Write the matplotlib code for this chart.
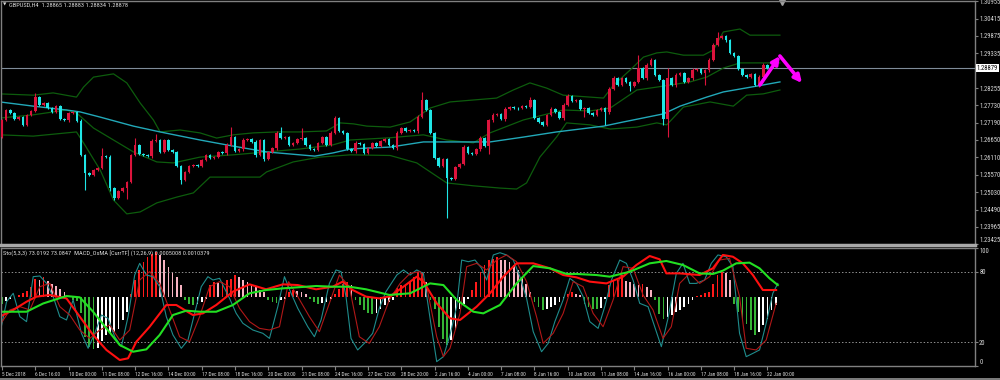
import matplotlib.pyplot as plt
import matplotlib.transforms as mtransforms
from matplotlib import font_manager
from matplotlib.patches import Rectangle
import numpy as np

# ---- GBPUSD H4 candles ----
first_open = 1.2674
closes = [
    1.2727, 1.2758, 1.2749, 1.2730, 1.2736, 1.2712, 1.2743, 1.2755, 1.2798, 1.2774,
    1.2780, 1.2764, 1.2752, 1.2770, 1.2730, 1.2727, 1.2749, 1.2752, 1.2724, 1.2619,
    1.2563, 1.2557, 1.2572, 1.2578, 1.2615, 1.2612, 1.2516, 1.2485, 1.2507, 1.2516,
    1.2535, 1.2619, 1.2650, 1.2622, 1.2619, 1.2615, 1.2662, 1.2665, 1.2628, 1.2665,
    1.2634, 1.2628, 1.2584, 1.2541, 1.2566, 1.2584, 1.2588, 1.2584, 1.2603, 1.2619,
    1.2609, 1.2612, 1.2628, 1.2625, 1.2650, 1.2674, 1.2631, 1.2637, 1.2665, 1.2668,
    1.2659, 1.2619, 1.2665, 1.2606, 1.2628, 1.2640, 1.2687, 1.2671, 1.2674, 1.2650,
    1.2656, 1.2668, 1.2670, 1.2650, 1.2637, 1.2634, 1.2656, 1.2674, 1.2650, 1.2687,
    1.2733, 1.2693, 1.2687, 1.2637, 1.2631, 1.2656, 1.2653, 1.2625, 1.2640, 1.2656,
    1.2647, 1.2662, 1.2668, 1.2650, 1.2640, 1.2687, 1.2702, 1.2693, 1.2696, 1.2693,
    1.2736, 1.2789, 1.2758, 1.2687, 1.2609, 1.2584, 1.2606, 1.2547, 1.2544, 1.2581,
    1.2591, 1.2643, 1.2625, 1.2622, 1.2637, 1.2671, 1.2647, 1.2727, 1.2743, 1.2746,
    1.2730, 1.2761, 1.2767, 1.2764, 1.2763, 1.2770, 1.2767, 1.2789, 1.2733, 1.2721,
    1.2712, 1.2743, 1.2761, 1.2752, 1.2733, 1.2774, 1.2801, 1.2786, 1.2789, 1.2761,
    1.2764, 1.2749, 1.2743, 1.2758, 1.2764, 1.2752, 1.2823, 1.2857, 1.2835, 1.2857,
    1.2845, 1.2832, 1.2845, 1.2888, 1.2857, 1.2898, 1.2913, 1.2867, 1.2851, 1.2730,
    1.2857, 1.2835, 1.2867, 1.2873, 1.2845, 1.2857, 1.2882, 1.2884, 1.2873, 1.2882,
    1.2913, 1.2960, 1.2981, 1.2987, 1.2975, 1.2935, 1.2925, 1.2885, 1.2867, 1.2860,
    1.2870, 1.2835, 1.2860, 1.2898, 1.28879,
]
# wick lengths beyond the body, in pips
wick_up = [
    4, 4, 4, 4, 3, 4, 4, 4, 12, 4,   3, 4, 4, 4, 4, 3, 4, 3, 4, 5,
    4, 3, 4, 3, 25, 3, 5, 4, 4, 4,   4, 4, 22, 4, 3, 3, 5, 19, 4, 4,
    3, 4, 4, 4, 4, 4, 4, 3, 4, 4,    3, 3, 4, 3, 5, 31, 4, 3, 5, 3,
    3, 5, 4, 4, 3, 4, 5, 19, 3, 4,   3, 4, 31, 4, 4, 3, 4, 4, 4, 5,
    6, 4, 3, 4, 3, 5, 3, 4, 3, 4,    3, 4, 4, 4, 4, 5, 4, 3, 4, 3,
    5, 25, 4, 4, 4, 4, 4, 4, 3, 4,   4, 5, 4, 3, 4, 5, 4, 4, 5, 4,
    3, 5, 4, 3, 4, 3, 4, 8, 4, 4,    3, 4, 5, 4, 4, 5, 8, 4, 3, 4,
    3, 4, 3, 4, 4, 4, 5, 6, 4, 4,    3, 4, 4, 40, 4, 5, 6, 4, 4, 4,
    31, 4, 5, 4, 4, 3, 5, 4, 3, 4,   5, 6, 19, 4, 5, 4, 4, 4, 4, 3,
    4, 4, 5, 5, 4,
]
wick_dn = [
    4, 4, 4, 4, 3, 4, 4, 4, 4, 4,    3, 4, 4, 4, 4, 3, 6, 3, 4, 5,
    53, 3, 4, 3, 4, 3, 8, 6, 4, 4,   34, 4, 4, 4, 3, 3, 5, 4, 4, 4,
    3, 4, 4, 12, 4, 4, 4, 3, 4, 4,   3, 3, 4, 3, 5, 4, 4, 3, 5, 3,
    3, 6, 4, 5, 3, 4, 5, 4, 3, 4,    3, 4, 4, 4, 4, 3, 4, 4, 4, 5,
    4, 4, 3, 4, 3, 5, 3, 4, 3, 4,    3, 4, 4, 4, 4, 5, 4, 3, 4, 3,
    5, 4, 4, 4, 4, 4, 4, 124, 3, 4,  4, 5, 4, 3, 4, 5, 4, 25, 5, 4,
    3, 5, 4, 3, 4, 3, 4, 4, 4, 4,    3, 4, 5, 4, 4, 5, 4, 4, 3, 4,
    25, 4, 3, 4, 4, 40, 5, 4, 4, 4,  3, 15, 4, 4, 4, 5, 4, 4, 4, 19,
    56, 4, 5, 4, 4, 3, 5, 4, 3, 37,  5, 4, 4, 4, 5, 4, 4, 4, 4, 3,
    4, 4, 5, 5, 4,
]

# moving average (cyan) and Bollinger bands (green), bar index / price
ma_bars = [-0.5, 7.5, 15.5, 18.8, 23.6, 31.6, 38, 47.6, 55.6, 63.6, 71.6, 75.2, 79.6, 83.7, 87.7,
           93.3, 101.3, 109.3, 117.3, 125.3, 133.3, 144.6, 149.4, 159, 163, 169.4, 173.4, 181.4, 187]
ma_vals = [1.2783, 1.2770, 1.2758, 1.2752, 1.2736, 1.2708, 1.2690, 1.2665, 1.2646, 1.2628, 1.2619,
           1.2615, 1.2625, 1.2637, 1.2640, 1.2643, 1.2659, 1.2659, 1.2659, 1.2674, 1.2690, 1.2708,
           1.2721, 1.2746, 1.2770, 1.2798, 1.2814, 1.2832, 1.2845]

bb_up_bars = [-0.5, 7.5, 12.3, 17.9, 19.6, 22, 26.8, 30, 33.2, 36.4, 38, 42.8, 47.6, 51.6, 55.6,
              60.4, 66, 71.6, 78, 81.3, 84.5, 87.7, 93.3, 98.1, 102.9, 107.7, 113.3, 118.9, 122.9,
              126.9, 130.9, 134.9, 138.1, 144.6, 147, 151, 154.2, 157.4, 159.8, 163.8, 168.6, 171,
              173.4, 177.4, 179.8, 187]
bb_up_vals = [1.2808, 1.2804, 1.2811, 1.2798, 1.2829, 1.2860, 1.2870, 1.2842, 1.2780, 1.2727,
              1.2690, 1.2696, 1.2687, 1.2671, 1.2681, 1.2687, 1.2690, 1.2690, 1.2693, 1.2718,
              1.2715, 1.2708, 1.2705, 1.2721, 1.2764, 1.2783, 1.2789, 1.2795, 1.2820, 1.2842,
              1.2826, 1.2804, 1.2801, 1.2795, 1.2835, 1.2882, 1.2922, 1.2935, 1.2938, 1.2928,
              1.2928, 1.2944, 1.3000, 1.3009, 1.2990, 1.2990]
bb_mid_bars = [-0.5, 7.5, 15.5, 17.9, 22, 26.8, 31.6, 37.2, 41.2, 47.6, 55.6, 63.6, 71.6, 79.6,
               83.7, 93.3, 101.3, 106.9, 113.3, 117.3, 125.3, 134.9, 141.3, 146.2, 152.6, 157.4,
               165.4, 169.4, 173.4, 177.4, 181.4, 187]
bb_mid_vals = [1.2733, 1.2743, 1.2758, 1.2749, 1.2702, 1.2665, 1.2628, 1.2597, 1.2594, 1.2612,
               1.2619, 1.2628, 1.2637, 1.2650, 1.2665, 1.2672, 1.2681, 1.2665, 1.2656, 1.2687,
               1.2727, 1.2758, 1.2755, 1.2764, 1.2820, 1.2829, 1.2845, 1.2860, 1.2888, 1.2904,
               1.2904, 1.2904]
bb_lo_bars = [-0.5, 7.5, 17.9, 19.6, 23.6, 26.8, 30, 33.2, 37.2, 42, 46, 50, 55.6, 62, 63.6, 70,
              76.4, 83.7, 93.3, 99.7, 106.9, 113.3, 119.7, 123.7, 126.1, 129.3, 133.3, 135.7,
              141.3, 146.2, 152.6, 157.4, 159.8, 163.8, 170.2, 175.8, 179, 183, 187]
bb_lo_vals = [1.2681, 1.2677, 1.2690, 1.2656, 1.2572, 1.2479, 1.2436, 1.2442, 1.2470, 1.2488,
              1.2501, 1.2550, 1.2550, 1.2550, 1.2566, 1.2597, 1.2612, 1.2619, 1.2617, 1.2594,
              1.2532, 1.2523, 1.2516, 1.2513, 1.2532, 1.2612, 1.2674, 1.2718, 1.2712, 1.2699,
              1.2705, 1.2718, 1.2712, 1.2767, 1.2783, 1.2770, 1.2804, 1.2808, 1.2820]

# ---- lower window ----
# OsMA histogram, in points
osma = [
    -7, -4, -2, 0.5, 2, 4, 6, 10, 18, 17, 20, 16, 13, 11, 8, 5, 1, -3, -4, -16,
    -40, -50, -52, -51, -44, -38, -36, -35, -32, -23, -15, 3, 17, 27, 35, 40, 43, 45, 42, 37,
    30, 25, 20, 12, -3, -7, -8, -7, -5, -2, 12, 15, 14, 15, 17, 18, 22, 20, 17, 15,
    13, 10, 7, 5, -3, -5, -6, -3, -2, 5, 7, 6, 5, 3, -2, -5, -7, -6, -5, -2,
    3, 8, 13, 15, 12, -3, -8, -13, -16, -17, -16, -12, -8, -5, -3,
    9.3, 11.7, 13.3, 16, 20, 25, 25, 15, -3.3, -11.7, -30, -41.7, -48.3, -43.3, -33.3,
    -11.7, -6.7, -1.7, 6.7, 15, 25, 31.7, 36.7, 38.3, 40, 37.3, 36.7, 35, 31.7, 26.7,
    20, 13.3, 5, -5, -10, -13.3, -11.7, -10, -8.3, -5, -1.7, 3.3, 5, 3.3, 1.7,
    -6.7, -10, -11.7, -11.7, -10.7, -1.7, 11.7, 16, 17.3, 21.7, 16, 15, 13.3, 11.7, 13.3,
    10, 6.7, -3.3, -16.7, -21.7, -20, -18.3, -15, -13.3, -10, -6.7, -3.3, 0.7, 1.7, 4,
    5, 13.3, 21.7, 25, 24, 16.7, -6.7, -15, -21.7, -26.7, -33.3, -38.3, -35, -28.3, -21.7,
    -13.3, -8.3,
]

# thick smooth lines (green slow, red fast), 0-100 scale
slow_bars = [-0.5, 5.9, 9.9, 15.5, 18.7, 21.9, 25.1, 28.3, 31.5, 34.7, 37.9, 41.1, 44.3, 47.5,
             51.5, 55.5, 59.5, 63.5, 67.5, 71.1, 75.5, 79.5, 83.5, 87.5, 91.5, 93.1, 98.1, 102.9,
             106.1, 109.3, 113.3, 115.7, 119.7, 123.7, 127.7, 131.7, 135.7, 138.1, 142.9, 146.1,
             150.9, 155.7, 159.7, 163.7, 167.7, 170.9, 173.3, 176.5, 179.7, 182.1, 184.5, 186.5]
slow_vals = [46, 46, 53, 59.3, 58.2, 46, 31.9, 17.8, 12.1, 14.1, 26.3, 43.2, 46.9, 46, 46, 51.7,
             61.6, 64.4, 65.8, 66.7, 67.8, 67.2, 67.2, 65, 61.6, 60.2, 61.6, 70, 68.6, 56, 46,
             44.6, 51.7, 70, 84.7, 82.8, 78, 78, 77.1, 75.7, 79.9, 87, 89, 85.6, 78.5, 78, 80.8,
             87, 87.6, 82.8, 74.3, 68.6]
fast_bars = [-0.5, 2.7, 5.9, 8.3, 11.5, 15.5, 18.7, 21.9, 25.1, 28.3, 30.3, 32.3, 35.5, 39.5,
             41.9, 45.9, 48.3, 51.5, 55.5, 59.5, 63.5, 67.5, 71.1, 75.5, 79.5, 81.9, 84.3, 87.5,
             90.7, 93.3, 96.5, 99.7, 101.3, 104.5, 107.7, 110.1, 114.1, 117.3, 120.5, 123.7,
             127.7, 131.7, 134.9, 138.1, 141.3, 145.3, 149.3, 152.5, 155.7, 158.1, 159.7, 162.9,
             167.7, 170.9, 173.3, 175.7, 178.1, 180.5, 182.9, 186.1]
fast_vals = [41.8, 47.5, 54.5, 58.8, 60.2, 57.3, 41.8, 26.3, 13.6, 5.1, 6.5, 20.6, 33.3, 51.7,
             51.7, 43.2, 44.6, 51.7, 63, 69.2, 65, 69.2, 68.6, 65, 67.2, 71.5, 64.4, 58.8, 57.3,
             59, 67.2, 75.7, 71.5, 53.1, 40.4, 39, 50.3, 61.6, 75.7, 87, 87, 82.8, 77.1, 75.1,
             71.5, 70, 75.7, 85.6, 93.2, 90.4, 78.5, 78.5, 77.1, 82.8, 94.1, 92.6, 87, 77.1,
             64.4, 64.4]

# stochastic (5,3,3): main (teal) and signal (dark red)
sto_main_bars = [-0.5, 1.1, 2.7, 4.3, 5.9, 7.5, 9.1, 10.7, 12.3, 13.9, 15.5, 17.1, 19.1, 20.7,
                 22.3, 23.9, 25.5, 27.1, 28.7, 30.3, 31.9, 33.1, 34.7, 36.3, 37.9, 39.5, 41.1,
                 43.1, 44.7, 46.3, 47.9, 49.5, 50.7, 52.3, 54.7, 56.3, 57.9, 60.3, 62.7, 64.3,
                 66.3, 67.9, 69.5, 71.1, 73.5, 75.1, 76.7, 78.7, 80.3, 81.5, 82.7, 83.9, 85.5,
                 87.1, 89.1, 90.7, 92.3,
                 94.9, 96.5, 98.1, 99.7, 101.3, 102.9, 104.5, 106.1, 107.7, 109.3, 110.5, 112.1,
                 113.7, 115.3, 116.5, 118.1, 119.7, 121.3, 122.9, 124.5, 126.1, 127.7, 129.7,
                 131.3, 132.9, 134.9, 136.5, 138.1, 139.7, 141.3, 143.3, 144.9, 146.5, 148.5,
                 150.1, 151.7, 153.3, 155.3, 156.9, 158.5, 160.1, 162.1, 163.7, 165.3, 166.9,
                 168.9, 170.5, 172.1, 174.1, 175.7, 177.3, 178.9, 180.5, 182.1, 183.7, 185.3, 186.5]
sto_main_vals = [27.7, 54.5, 61.6, 41.8, 37.6, 75.7, 76.3, 70, 58.8, 41.8, 39, 56, 27.7, 15,
                 27.7, 43.2, 40.4, 24.8, 16.4, 41.8, 77.1, 87, 77.1, 75.7, 67.2, 41.8, 26.3, 15,
                 22, 44.6, 67.2, 75.7, 72.9, 74.3, 57.3, 44.6, 36.2, 30.5, 27.7, 23.4, 50.3,
                 75.7, 61.6, 48.9, 33.3, 24.8, 39, 70, 81.4, 80, 58.8, 23.4, 13.6, 19.2, 27.7,
                 48.9, 63,
                 77.1, 81.4, 77.1, 81.4, 78.5, 40.4, 3.7, 7.9, 26.3, 50.3, 89.8, 88.4, 89.8,
                 82.8, 72.9, 94.1, 96, 94.1, 89.8, 75.7, 57.3, 29.1, 12.1, 19.2, 37.6, 56, 74.3,
                 70, 58.8, 37.6, 31.9, 50.3, 72.9, 89.8, 87, 72.9, 53.1, 50.3, 33.3, 16.4, 40.4,
                 78.5, 87, 70, 70, 72.9, 87, 94.1, 92.6, 84.2, 27.7, 7.9, 10.7, 13.6, 36.2, 61.6, 70]
sto_sig_bars = [-0.5, 1.9, 4.3, 6.7, 9.1, 11.5, 13.9, 16.3, 18.7, 21.1, 23.5, 25.9, 28.3, 30.7,
                33.1, 35.5, 37.9, 40.3, 42.7, 45.1, 47.5, 49.9, 52.3, 54.7, 57.1, 59.5, 61.9,
                64.3, 66.7, 68.9, 71.1, 73.9, 76.3, 78.7, 81.1, 83.5, 85.9, 88.3, 90.7, 93.1,
                95.7, 98.1, 100.5, 102.1, 104.5, 106.1, 107.7, 110.1, 111.7, 114.1, 116.5, 118.9,
                121.3, 123.7, 126.1, 128.5, 130.1, 132.5, 134.9, 137.3, 139.7, 142.1, 144.5,
                146.9, 149.3, 151.7, 154.1, 156.5, 158.9, 160.9, 162.9, 165.3, 167.7, 170.1,
                172.5, 174.9, 177.3, 178.9, 181.3, 183.7, 186.1]
sto_sig_vals = [34.7, 47.5, 50.3, 47.5, 67.2, 70, 50.3, 43.2, 30.5, 23.4, 30.5, 34.7, 22, 30.5,
                72.9, 80, 70, 47.5, 24.8, 20.6, 41.8, 67.2, 71.5, 67.2, 48.9, 37.6, 31.9, 30.5,
                33.3, 71.5, 58.8, 41.8, 29.1, 53.1, 77.1, 67.2, 24.8, 19.2, 33.3, 56,
                70, 78.5, 80, 67.2, 24.8, 7.9, 15, 44.6, 84.2, 87, 81.4, 89.8, 94.1, 88.4, 71.5,
                41.8, 19.2, 27.7, 44.6, 71.5, 67.2, 44.6, 33.3, 56, 84.2, 82.8, 60.2, 47.5, 23.4,
                33.3, 70, 78.5, 70, 75.7, 89.8, 91.2, 58.8, 15, 13.6, 22, 53.1]

time_labels = ['5 Dec 2018', '6 Dec 16:00', '10 Dec 00:00', '11 Dec 08:00', '12 Dec 16:00',
               '14 Dec 00:00', '17 Dec 08:00', '18 Dec 16:00', '20 Dec 00:00', '21 Dec 08:00',
               '24 Dec 16:00', '27 Dec 12:00', '28 Dec 20:00', '2 Jan 16:00', '4 Jan 00:00',
               '7 Jan 08:00', '8 Jan 16:00', '10 Jan 00:00', '11 Jan 08:00', '14 Jan 16:00',
               '16 Jan 00:00', '17 Jan 08:00', '18 Jan 16:00', '22 Jan 00:00']
time_ticks = list(range(0, 185, 8))
price_ticks = [1.30955, 1.30415, 1.29875, 1.29335, 1.28255, 1.27730, 1.27190, 1.26650,
               1.26110, 1.25570, 1.25030, 1.24490, 1.23965, 1.23425]
last_price = 1.28879
arrow_bars = [182.2, 187.0, 192.3]
arrow_prices = [1.28355, 1.29254, 1.28417]

# narrow font if one is installed, else shrink DejaVu
avail = {f.name for f in font_manager.fontManager.ttflist}
FAM, K = 'DejaVu Sans', 0.74
for name, k in [('Liberation Sans Narrow', 1.0), ('DejaVu Sans Condensed', 0.82),
                ('Roboto Condensed', 0.92)]:
    if name in avail:
        FAM, K = name, k
        break
plt.rcParams['font.family'] = [FAM, 'DejaVu Sans']

UP = '#dc143c'
DOWN = '#1fe6e6'
GRID = '#808080'
TXT = '#d8d8d8'
FS_Y = 5.2 * K
FS_X = 4.2 * K
FS_T = 5.0 * K

fig = plt.figure(figsize=(10, 3.8), dpi=100, facecolor='black')
ax = fig.add_axes([0.001, 1 - 245 / 380, 0.974, 244 / 380])
axl = fig.add_axes([0.001, 14 / 380, 0.974, 118 / 380])
XL = (-0.24, 233.9)

for a in (ax, axl):
    a.set_facecolor('black')
    a.set_xlim(*XL)
    for s in a.spines.values():
        s.set_color(GRID)
        s.set_linewidth(1)
ax.spines['bottom'].set_linewidth(2.5)
ax.spines['bottom'].set_color('#a8a8a8')

# ---- candles ----
opens = [first_open] + closes[:-1]
o = np.array(opens)
c = np.array(closes)
idx = np.arange(len(c))
top = np.maximum(o, c)
bot = np.minimum(o, c)
hi = top + np.array(wick_up) * 1e-4
lo = bot - np.array(wick_dn) * 1e-4
col = np.where(c >= o, UP, DOWN)
ax.vlines(idx, lo, hi, colors=col, lw=0.8, zorder=3)
ax.bar(idx, np.maximum(top - bot, 0.00004), bottom=bot, width=0.62, color=col, lw=0, zorder=4)

ax.plot(bb_up_bars, bb_up_vals, color='#0d5c0d', lw=0.9, zorder=2)
ax.plot(bb_mid_bars, bb_mid_vals, color='#0d5c0d', lw=0.9, zorder=2)
ax.plot(bb_lo_bars, bb_lo_vals, color='#0d5c0d', lw=0.9, zorder=2)
ax.plot(ma_bars, ma_vals, color='#22a8b8', lw=1.0, zorder=2)

ax.axhline(last_price, color='#7f8c99', lw=0.8, zorder=1)

for i in range(2):
    ax.annotate('', xy=(arrow_bars[i + 1], arrow_prices[i + 1]),
                xytext=(arrow_bars[i], arrow_prices[i]),
                arrowprops=dict(arrowstyle='-|>', color='#ff00ff', lw=2.6,
                                mutation_scale=11, shrinkA=0, shrinkB=0), zorder=6)

ax.set_ylim(1.23395, 1.30959)
ax.yaxis.tick_right()
ax.set_yticks(price_ticks)
ax.set_yticklabels(['%.5f' % p for p in price_ticks])
ax.tick_params(axis='y', colors=GRID, labelcolor=TXT, labelsize=FS_Y, length=2, pad=1)
ax.get_yticklabels()[-1].set_va('bottom')
ax.set_xticks([])
trans = mtransforms.blended_transform_factory(ax.transAxes, ax.transData)
ax.text(1.002, last_price, '%.5f' % last_price, transform=trans, ha='left', va='center',
        fontsize=FS_Y, color='black', zorder=7,
        bbox=dict(facecolor='white', edgecolor='none', pad=0.5))
ax.plot([187.5], [0.995], marker='v', ms=4, color='#a0a0a0',
        transform=mtransforms.blended_transform_factory(ax.transData, ax.transAxes),
        clip_on=False)

# ---- lower window ----
axh = axl.twinx()
axh.set_zorder(axl.get_zorder() - 1)
axl.patch.set_alpha(0)
axh.set_facecolor('black')
axh.set_ylim(-69, 49)
axh.set_yticks([])
for s in axh.spines.values():
    s.set_visible(False)

h = np.array(osma)
prev = np.concatenate([[h[0]], h[:-1]])
hcol = np.where(h >= 0, np.where(h >= prev, '#ff1a1a', '#f7b3c2'),
                np.where(h <= prev, '#35b535', '#ffffff'))
axh.bar(np.arange(len(h)), h, width=0.42, color=hcol, lw=0)

axl.axhline(80, color='#909090', lw=0.7, ls=(0, (1.5, 2)))
axl.axhline(20, color='#909090', lw=0.7, ls=(0, (1.5, 2)))
axl.plot(sto_main_bars, sto_main_vals, color='#1f8c8c', lw=0.8)
axl.plot(sto_sig_bars, sto_sig_vals, color='#b01818', lw=0.8)
axl.plot(fast_bars, fast_vals, color='#ff1010', lw=1.5)
axl.plot(slow_bars, slow_vals, color='#22e022', lw=1.5)
axl.set_ylim(0, 100)
axl.yaxis.tick_right()
axl.set_yticks([0, 20, 80, 100])
axl.tick_params(axis='y', colors=GRID, labelcolor=TXT, labelsize=FS_Y, length=2, pad=1)
ylabs = axl.get_yticklabels()
ylabs[0].set_va('bottom')
ylabs[-1].set_va('top')
axl.set_xticks(time_ticks)
axl.set_xticklabels(time_labels, ha='left')
axl.tick_params(axis='x', colors=GRID, labelcolor=TXT, labelsize=FS_X, length=3, pad=1)

fig.text(0.009, 1 - 5 / 380, 'GBPUSD,H4  1.28865 1.28883 1.28834 1.28878', color=TXT,
         fontsize=FS_T, va='center', ha='left')
fig.text(0.003, 1 - 5 / 380, '\u25bc', color=TXT, fontsize=3.2, va='center', ha='left',
         family='DejaVu Sans')
fig.text(0.003, 1 - 253 / 380,
         'Sto(5,3,3) 73.0192 73.0847  MACD_OsMA [CurrTF] (12,26,9) 0.0005008 0.0010379',
         color=TXT, fontsize=FS_T, va='center', ha='left')
fig.patches.append(Rectangle((0, 0), 1, 2.5 / 380, transform=fig.transFigure,
                             facecolor='#7a7a7a', edgecolor='none'))

fig.savefig('out.png', dpi=100, facecolor='black')
